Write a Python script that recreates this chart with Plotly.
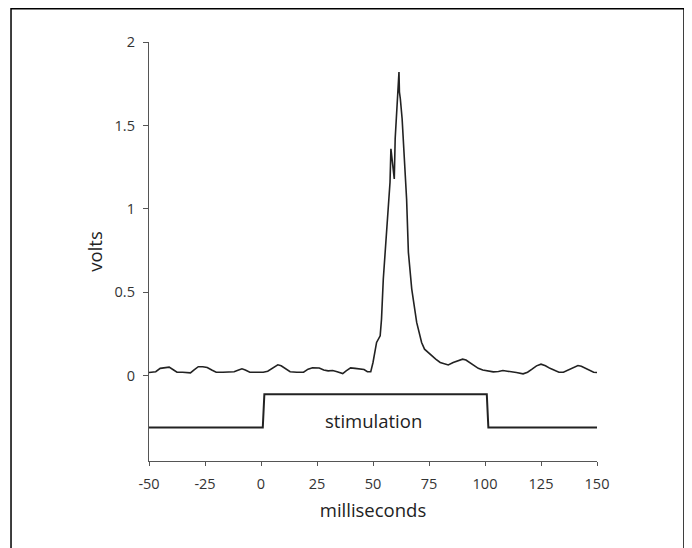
import plotly.graph_objects as go

# ---- data ----
signal_ms = [-50, -47, -45, -43, -41, -39, -37.5, -35, -33, -31.5, -30, -28, -26, -24, -22, -20,
             -17, -14, -12, -10, -8.5, -7, -5, -2, 1, 3, 5, 7.5, 9, 11, 13, 16, 19, 21, 23, 26,
             28, 30, 32, 34, 36.5, 38, 40, 42, 44, 46, 47.5, 49, 50, 50.8, 51.6, 53.2, 53.8,
             54.6, 56.1, 57.1, 57.6, 58.0, 58.5, 59.2, 59.5, 59.9, 60.5, 61.0, 61.3, 61.6, 61.8,
             62.2, 63.0, 63.5, 64.3, 65.0, 65.8, 67.3, 69.5, 71.7, 73, 74.7, 76, 78, 80, 82,
             83.6, 85.8, 88, 90, 91.5, 93, 95, 97, 99, 101, 103.7, 106, 108, 110, 112, 114, 117,
             119, 121, 123, 125, 127, 129, 131, 133, 135, 137, 139, 141.5, 143, 145, 147, 148.5, 150]
signal_volts = [0.02, 0.025, 0.045, 0.05, 0.052, 0.035, 0.022, 0.022, 0.02, 0.018, 0.035, 0.055,
                0.055, 0.05, 0.035, 0.022, 0.022, 0.022, 0.025, 0.035, 0.042, 0.035, 0.022, 0.022,
                0.022, 0.028, 0.045, 0.066, 0.06, 0.04, 0.025, 0.022, 0.022, 0.04, 0.048, 0.047,
                0.035, 0.03, 0.032, 0.025, 0.014, 0.03, 0.048, 0.045, 0.042, 0.038, 0.025, 0.025,
                0.08, 0.15, 0.2, 0.24, 0.34, 0.58, 0.9, 1.06, 1.16, 1.36, 1.3, 1.22, 1.18, 1.42,
                1.54, 1.70, 1.72, 1.82, 1.70, 1.66, 1.54, 1.42, 1.24, 1.06, 0.74, 0.52, 0.32, 0.2,
                0.16, 0.14, 0.12, 0.1, 0.08, 0.07, 0.065, 0.08, 0.092, 0.1, 0.095, 0.08, 0.06,
                0.045, 0.035, 0.032, 0.024, 0.026, 0.032, 0.028, 0.022, 0.02, 0.012, 0.022, 0.04,
                0.06, 0.07, 0.06, 0.045, 0.035, 0.022, 0.022, 0.035, 0.05, 0.062, 0.058, 0.045,
                0.035, 0.022, 0.02]

stim_ms = [-50, 0.8, 1.5, 100.8, 101.5, 150]
stim_volts = [-0.31, -0.31, -0.11, -0.11, -0.31, -0.31]

x_ticks = [-50, -25, 0, 25, 50, 75, 100, 125, 150]
x_ticklabels = ["-50", "-25", "0", "25", "50", "75", "100", "125", "150"]
y_ticks = [0, 0.5, 1, 1.5, 2]
y_ticklabels = ["0", "0.5", "1", "1.5", "2"]

stim_label = "stimulation"
x_title = "milliseconds"
y_title = "volts"

FONT = "Open Sans, Noto Sans, DejaVu Sans, sans-serif"

fig = go.Figure()
fig.add_trace(go.Scatter(x=signal_ms, y=signal_volts, mode="lines",
                         line=dict(color="#222222", width=1.6), showlegend=False, hoverinfo="skip"))
fig.add_trace(go.Scatter(x=stim_ms, y=stim_volts, mode="lines",
                         line=dict(color="#222222", width=2), showlegend=False, hoverinfo="skip"))

fig.add_annotation(x=50, y=-0.265, text=stim_label, showarrow=False,
                   font=dict(family=FONT, size=18.5, color="#222222"))

fig.update_layout(
    width=692, height=548,
    margin=dict(l=141, r=103, t=34, b=95, autoexpand=False),
    paper_bgcolor="white", plot_bgcolor="white",
    font=dict(family=FONT, color="#333333"),
    xaxis=dict(range=[-50, 150], tickvals=x_ticks, ticktext=x_ticklabels,
               showgrid=False, zeroline=False,
               showline=True, linecolor="#555555", linewidth=1.3,
               ticks="outside", ticklen=4, tickcolor="#555555", tickwidth=1.3,
               ticklabelstandoff=5,
               tickfont=dict(size=14.5, color="#333333"),
               title=dict(text=x_title, font=dict(size=18.5, color="#222222"), standoff=12)),
    yaxis=dict(range=[-0.51, 2], tickvals=y_ticks, ticktext=y_ticklabels,
               showgrid=False, zeroline=False,
               showline=True, linecolor="#555555", linewidth=1.3,
               ticks="outside", ticklen=5, tickcolor="#555555", tickwidth=1.3,
               ticklabelstandoff=5,
               tickfont=dict(size=14.5, color="#333333"),
               title=dict(text=y_title, font=dict(size=18.5, color="#222222"), standoff=7)),
)

# outer frame
fig.add_shape(type="rect", xref="paper", yref="paper",
              x0=-0.308, x1=1.1942, y0=-0.25, y1=1.0794,
              line=dict(color="black", width=1.5), layer="below")

fig.write_html("out.html")
